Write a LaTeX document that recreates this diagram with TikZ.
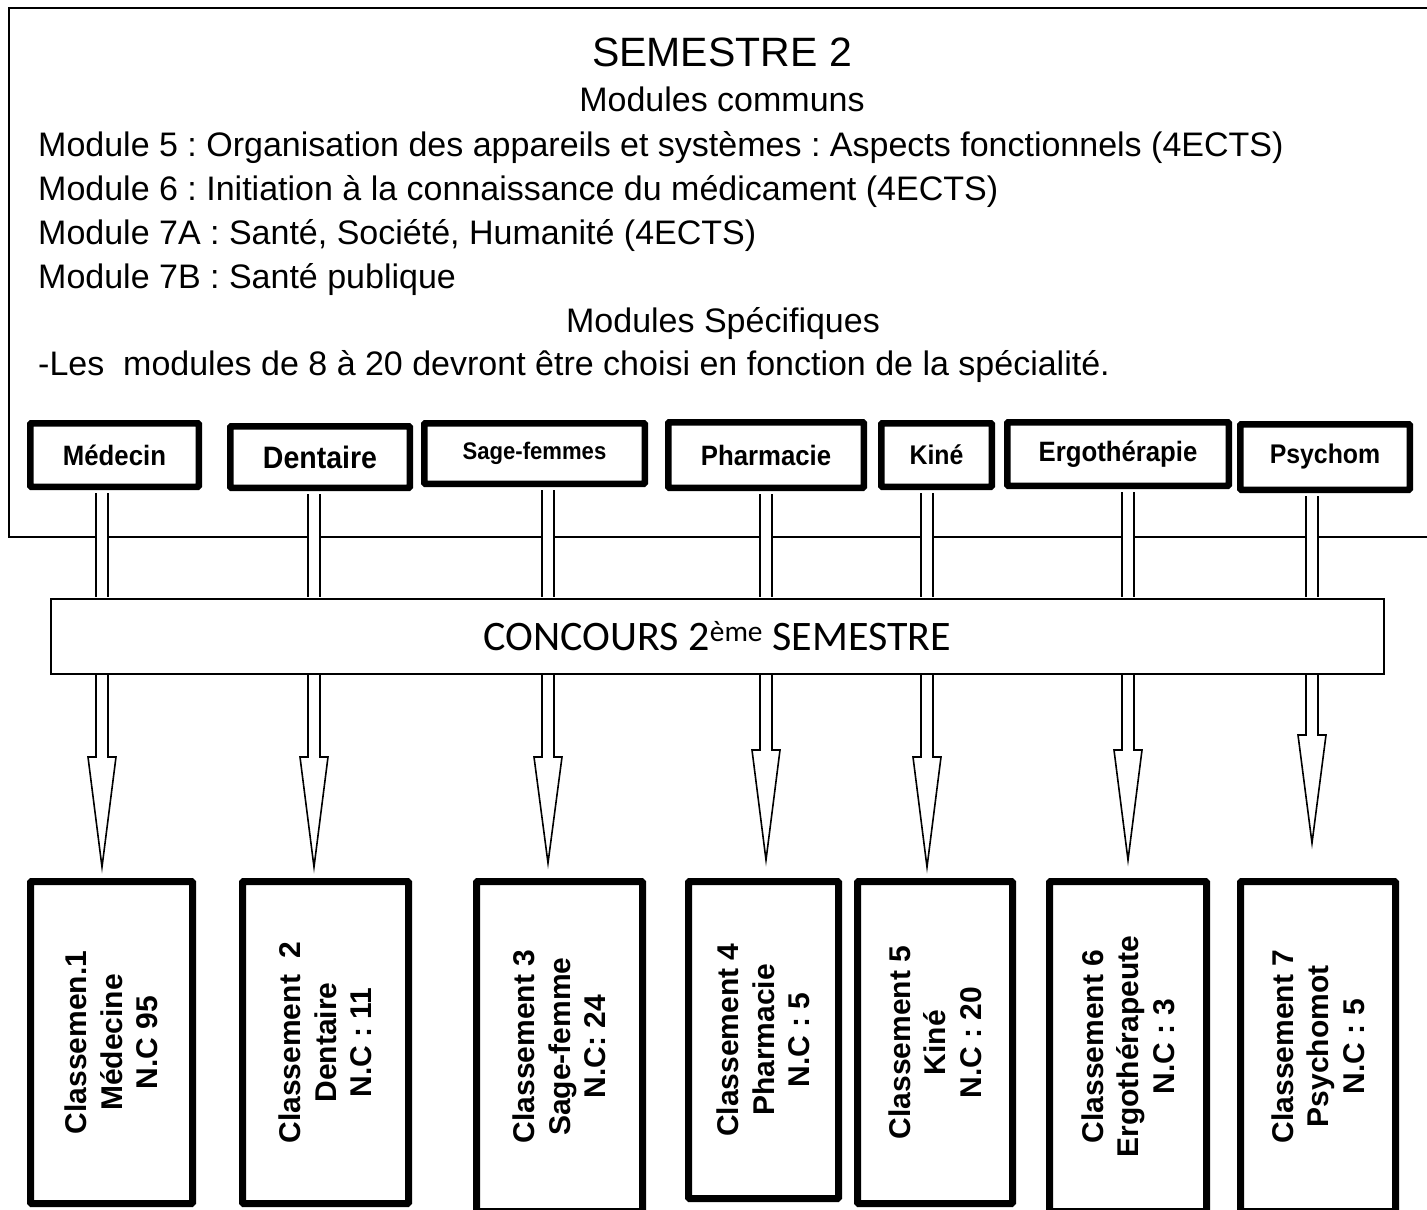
\documentclass[tikz,border=0pt]{standalone}
\usepackage{fontspec}
\setmainfont{Liberation Sans}
\newfontfamily\calibri{Carlito}
\newfontfamily\etroite[FakeStretch=0.92]{Liberation Sans}
\usetikzlibrary{calc}
\frenchspacing

\begin{document}
\begin{tikzpicture}[x=1pt,y=-1pt,
    titre/.style={anchor=base, inner sep=0pt, font=\fontsize{34}{40}\selectfont},
    ligne/.style={anchor=base west, inner sep=0pt, font=\fontsize{34}{40}\selectfont},
    filiere/.style={draw, line width=6.5pt, rounded corners=1pt, fill=white, inner sep=0pt},
    classement/.style={draw, line width=7pt, rounded corners=1pt, rotate=90, align=center,
      inner sep=0pt, font=\bfseries\fontsize{30}{35.5}\selectfont},
    concours/.style={draw, line width=2pt, inner sep=0pt, font=\calibri\fontsize{42}{48}\selectfont},
    tige/.style={line width=1.5pt, double=white, double distance=10.5pt, shorten <=3.25pt, shorten >=1pt},
    fleche/.style={line width=1.6pt, line join=miter}]
  \useasboundingbox (0,0) rectangle (1427,1210);
  \clip (0,0) rectangle (1427,1210);

  % Cadre du semestre
  \draw[line width=2pt] (1440,8) -- (9,8) -- (9,537) -- (1440,537);

  \node[titre, font=\fontsize{41}{48}\selectfont] (sem) at (722,66) {SEMESTRE 2};
  \node[titre] (communs) at (722,111) {Modules communs};
  \node[ligne] (m5)  at (38,156) {Module 5 : Organisation des appareils et systèmes : Aspects fonctionnels (4ECTS)};
  \node[ligne] (m6)  at (38,200) {Module 6 : Initiation à la connaissance du médicament (4ECTS)};
  \node[ligne] (m7a) at (38,244) {Module 7A : Santé, Société, Humanité (4ECTS)};
  \node[ligne] (m7b) at (38,288) {Module 7B : Santé publique};
  \node[titre] (specif) at (723,332) {Modules Spécifiques};
  \node[ligne] (choix) at (38,375) {-Les\ \ modules de 8 à 20 devront être choisi en fonction de la spécialité.};

  % Filieres
  \node[filiere, minimum width=168.5pt, minimum height=63.5pt, font=\etroite\bfseries\fontsize{28}{32}\selectfont] (med)  at (114.5,455) {Médecin};
  \node[filiere, minimum width=179.5pt, minimum height=61.5pt, font=\etroite\bfseries\fontsize{31}{36}\selectfont] (den)  at (320,457)   {Dentaire};
  \node[filiere, minimum width=220.5pt, minimum height=60.5pt, font=\etroite\bfseries\fontsize{24}{28}\selectfont] (sage) at (534.5,453.5) {Sage-femmes};
  \node[filiere, minimum width=195.5pt, minimum height=65.5pt, font=\etroite\bfseries\fontsize{28}{32}\selectfont] (pha)  at (766,455)   {Pharmacie};
  \node[filiere, minimum width=110.5pt, minimum height=63.5pt, font=\etroite\bfseries\fontsize{27}{32}\selectfont] (kin)  at (936.5,455) {Kiné};
  \node[filiere, minimum width=221.5pt, minimum height=63.5pt, font=\etroite\bfseries\fontsize{28}{32}\selectfont] (erg)  at (1118,454)  {Ergothérapie};
  \node[filiere, minimum width=169.5pt, minimum height=65.5pt, font=\etroite\bfseries\fontsize{27}{32}\selectfont] (psy)  at (1325,457)  {Psychom};

  % Concours
  \node[concours, minimum width=1333pt, minimum height=75pt] (conc) at (717.5,636.5) {CONCOURS 2\textsuperscript{ème} SEMESTRE};

  % Pointes des fleches
  \coordinate (p1) at (102,867);
  \coordinate (p2) at (314,867);
  \coordinate (p3) at (548,863);
  \coordinate (p4) at (766,860);
  \coordinate (p5) at (927,867);
  \coordinate (p6) at (1128,860);
  \coordinate (p7) at (1312,843);

  \draw[tige] (med.south -| p1)  -- (conc.north -| p1);
  \draw[tige] (den.south -| p2)  -- (conc.north -| p2);
  \draw[tige] (sage.south -| p3) -- (conc.north -| p3);
  \draw[tige] (pha.south -| p4)  -- (conc.north -| p4);
  \draw[tige] (kin.south -| p5)  -- (conc.north -| p5);
  \draw[tige] (erg.south -| p6)  -- (conc.north -| p6);
  \draw[tige] (psy.south -| p7)  -- (conc.north -| p7);

  \draw[fleche] ($(conc.south -| p1)+(-6,0)$) -- ($(p1)+(-6,-110)$) -- ($(p1)+(-14,-110)$) -- (p1) -- ($(p1)+(14,-110)$) -- ($(p1)+(6,-110)$) -- ($(conc.south -| p1)+(6,0)$);
  \draw[fleche] ($(conc.south -| p2)+(-6,0)$) -- ($(p2)+(-6,-110)$) -- ($(p2)+(-14,-110)$) -- (p2) -- ($(p2)+(14,-110)$) -- ($(p2)+(6,-110)$) -- ($(conc.south -| p2)+(6,0)$);
  \draw[fleche] ($(conc.south -| p3)+(-6,0)$) -- ($(p3)+(-6,-106)$) -- ($(p3)+(-14,-106)$) -- (p3) -- ($(p3)+(14,-106)$) -- ($(p3)+(6,-106)$) -- ($(conc.south -| p3)+(6,0)$);
  \draw[fleche] ($(conc.south -| p4)+(-6,0)$) -- ($(p4)+(-6,-110)$) -- ($(p4)+(-14,-110)$) -- (p4) -- ($(p4)+(14,-110)$) -- ($(p4)+(6,-110)$) -- ($(conc.south -| p4)+(6,0)$);
  \draw[fleche] ($(conc.south -| p5)+(-6,0)$) -- ($(p5)+(-6,-110)$) -- ($(p5)+(-14,-110)$) -- (p5) -- ($(p5)+(14,-110)$) -- ($(p5)+(6,-110)$) -- ($(conc.south -| p5)+(6,0)$);
  \draw[fleche] ($(conc.south -| p6)+(-6,0)$) -- ($(p6)+(-6,-110)$) -- ($(p6)+(-14,-110)$) -- (p6) -- ($(p6)+(14,-110)$) -- ($(p6)+(6,-110)$) -- ($(conc.south -| p6)+(6,0)$);
  \draw[fleche] ($(conc.south -| p7)+(-6,0)$) -- ($(p7)+(-6,-108)$) -- ($(p7)+(-14,-108)$) -- (p7) -- ($(p7)+(14,-108)$) -- ($(p7)+(6,-108)$) -- ($(conc.south -| p7)+(6,0)$);

  % Classements
  \node[classement, minimum width=322pt, minimum height=162pt] (c1) at (111.5,1042.5) {Classemen.1\\Médecine\\N.C 95};
  \node[classement, minimum width=322pt, minimum height=166pt] (c2) at (325.5,1042.5) {Classement\ \ 2\\Dentaire\\N.C : 11};
  \node[classement, minimum width=330pt, minimum height=166pt] (c3) at (559.5,1046.5) {Classement 3\\Sage-femme\\N.C: 24};
  \node[classement, minimum width=317pt, minimum height=150pt] (c4) at (763.5,1040)   {Classement 4\\Pharmacie\\N.C : 5};
  \node[classement, minimum width=322pt, minimum height=155pt] (c5) at (935,1042.5)   {Classement 5\\Kiné\\N.C : 20};
  \node[classement, minimum width=330pt, minimum height=157pt] (c6) at (1128,1046.5)  {Classement 6\\Ergothérapeute\\N.C : 3};
  \node[classement, minimum width=330pt, minimum height=155pt] (c7) at (1318,1046.5)  {Classement 7\\Psychomot\\N.C : 5};

\end{tikzpicture}
\end{document}
